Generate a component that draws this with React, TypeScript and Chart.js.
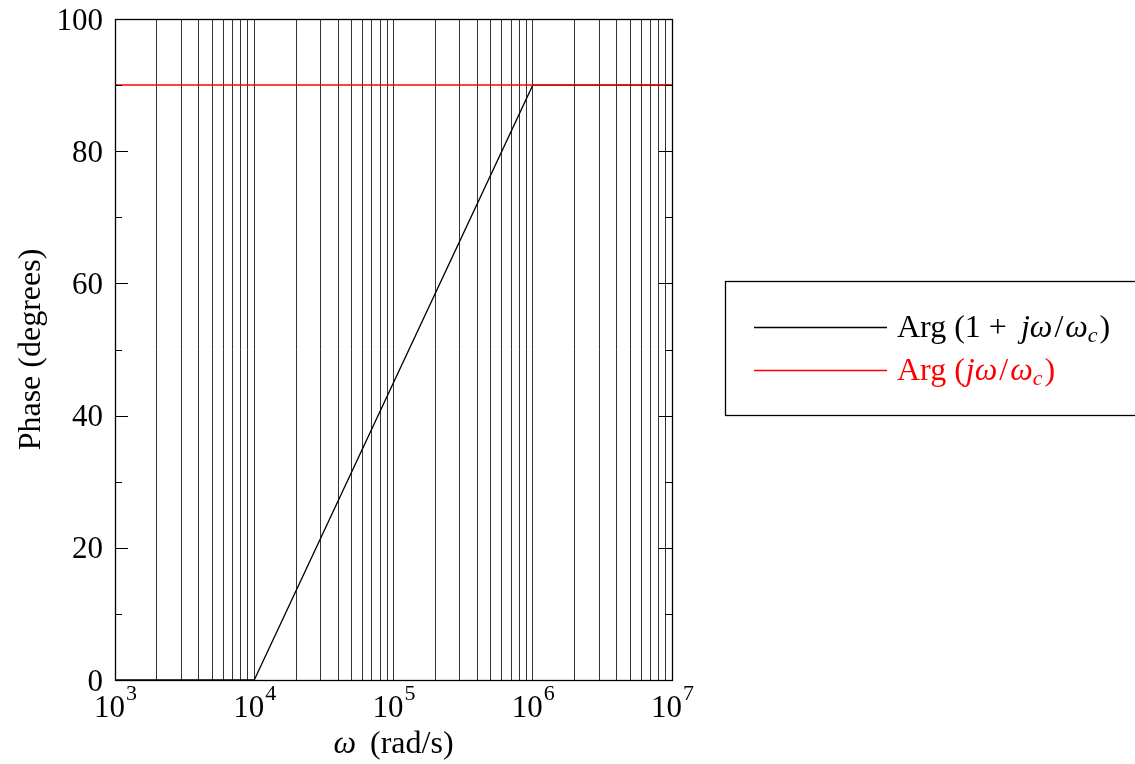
import { useEffect, useRef } from 'react';
import { Chart, registerables } from 'chart.js';

Chart.register(...registerables);

// ---- data ----
const omegaMin = 1e3;
const omegaMax = 1e7;
const breakFreqs = [1e3, 1e4, 1e6, 1e7];
const phaseOnePlus = [0, 0, 90, 90];
const zeroFreqs = [1e3, 1e7];
const phaseZero = [90, 90];
const decadeExponents = [3, 4, 5, 6, 7];
const mantissas = [1, 2, 3, 4, 5, 6, 7, 8, 9];
const yTicks = [0, 10, 20, 30, 40, 50, 60, 70, 80, 90, 100];
const yLabels = ['0', '20', '40', '60', '80', '100'];
const yTitle = 'Phase (degrees)';

const FONT = "'Liberation Serif', 'DejaVu Serif', serif";
const FS = 31;
const TS = 32;

type Seg = { t: string; it?: boolean; sub?: boolean; gap?: number };
const legendItems: { color: string; segs: Seg[] }[] = [
  {
    color: '#000000',
    segs: [
      { t: 'Arg', gap: 8 },
      { t: '(1', gap: 8 },
      { t: '+', gap: 14 },
      { t: 'jω', it: true, gap: 2 },
      { t: '/', gap: 2 },
      { t: 'ω', it: true },
      { t: 'c', it: true, sub: true, gap: 2 },
      { t: ')' },
    ],
  },
  {
    color: '#ff0000',
    segs: [
      { t: 'Arg', gap: 8 },
      { t: '(', gap: 1 },
      { t: 'jω', it: true, gap: 2 },
      { t: '/', gap: 2 },
      { t: 'ω', it: true },
      { t: 'c', it: true, sub: true, gap: 2 },
      { t: ')' },
    ],
  },
];

const gridValues: number[] = [];
decadeExponents.forEach((e, i) => {
  mantissas.forEach((m) => {
    const v = m * Math.pow(10, e);
    if (i < decadeExponents.length - 1 || m === 1) gridValues.push(v);
  });
});

const decorPlugin = {
  id: 'decor',
  afterDraw(chart: any) {
    const ctx: CanvasRenderingContext2D = chart.ctx;
    const { left, right, top, bottom } = chart.chartArea;
    const xs = chart.scales.x;
    const ys = chart.scales.y;
    ctx.save();
    // frame
    ctx.strokeStyle = '#000';
    ctx.lineWidth = 1.3;
    ctx.strokeRect(Math.round(left) + 0.5, Math.round(top) + 0.5, Math.round(right - left), Math.round(bottom - top));
    // y ticks inward, both sides
    ctx.lineWidth = 1;
    yTicks.forEach((v) => {
      const y = Math.round(ys.getPixelForValue(v)) + 0.5;
      const len = v % 20 === 0 ? 13 : 7;
      ctx.beginPath();
      ctx.moveTo(left, y);
      ctx.lineTo(left + len, y);
      ctx.moveTo(right, y);
      ctx.lineTo(right - len, y);
      ctx.stroke();
    });
    ctx.fillStyle = '#000';
    ctx.font = `${FS}px ${FONT}`;
    ctx.textAlign = 'right';
    ctx.textBaseline = 'alphabetic';
    yLabels.forEach((l) => {
      const y = ys.getPixelForValue(Number(l));
      ctx.fillText(l, left - 12, y + 10.5);
    });
    // x labels 10^e
    ctx.textAlign = 'left';
    decadeExponents.forEach((e) => {
      const x = xs.getPixelForValue(Math.pow(10, e));
      ctx.font = `${FS}px ${FONT}`;
      const w1 = ctx.measureText('10').width;
      ctx.font = `${Math.round(FS * 0.7)}px ${FONT}`;
      const w2 = ctx.measureText(String(e)).width;
      const sx = x - (w1 + w2) / 2;
      ctx.font = `${FS}px ${FONT}`;
      ctx.fillText('10', sx, bottom + 37);
      ctx.font = `${Math.round(FS * 0.7)}px ${FONT}`;
      ctx.fillText(String(e), sx + w1 + 1, bottom + 20);
    });
    // x title: italic omega + (rad/s)
    ctx.font = `italic ${TS}px ${FONT}`;
    const wOm = ctx.measureText('ω').width;
    ctx.font = `${TS}px ${FONT}`;
    const wRest = ctx.measureText('(rad/s)').width;
    const gap = 14;
    const total = wOm + gap + wRest;
    const cx = (left + right) / 2 - total / 2;
    ctx.textAlign = 'left';
    ctx.font = `italic ${TS}px ${FONT}`;
    ctx.fillText('ω', cx, bottom + 73);
    ctx.font = `${TS}px ${FONT}`;
    ctx.fillText('(rad/s)', cx + wOm + gap, bottom + 73);
    // y title
    ctx.textAlign = 'center';
    ctx.save();
    ctx.translate(40, (top + bottom) / 2);
    ctx.rotate(-Math.PI / 2);
    ctx.font = `${TS}px ${FONT}`;
    ctx.fillText(yTitle, 0, 0);
    ctx.restore();
    // legend
    ctx.lineWidth = 1.3;
    ctx.strokeStyle = '#000';
    ctx.strokeRect(725.5, 281.5, 430, 134);
    legendItems.forEach((item, i) => {
      const ly = 327 + i * 43;
      ctx.strokeStyle = item.color;
      ctx.lineWidth = 1.3;
      ctx.beginPath();
      ctx.moveTo(754, ly + 0.5);
      ctx.lineTo(887, ly + 0.5);
      ctx.stroke();
      let tx = 897;
      const base = ly + 10;
      ctx.fillStyle = item.color;
      ctx.textAlign = 'left';
      item.segs.forEach((s) => {
        const size = s.sub ? Math.round(TS * 0.7) : TS;
        ctx.font = `${s.it ? 'italic ' : ''}${size}px ${FONT}`;
        ctx.fillText(s.t, tx, s.sub ? base + 5 : base);
        tx += ctx.measureText(s.t).width + (s.gap || 0);
      });
    });
    ctx.restore();
  },
};

export default function App() {
  const ref = useRef<HTMLCanvasElement | null>(null);
  useEffect(() => {
    document.body.style.margin = '0';
    if (!ref.current) return;
    const chart = new Chart(ref.current, {
      type: 'line',
      data: {
        datasets: [
          {
            label: 'Arg (1 + jω/ωc)',
            data: breakFreqs.map((x, i) => ({ x, y: phaseOnePlus[i] })),
            borderColor: '#000000',
            borderWidth: 1.3,
            pointRadius: 0,
            tension: 0,
            order: 2,
          },
          {
            label: 'Arg (jω/ωc)',
            data: zeroFreqs.map((x, i) => ({ x, y: phaseZero[i] })),
            borderColor: '#ff0000',
            borderWidth: 1.5,
            pointRadius: 0,
            tension: 0,
            order: 1,
          },
        ],
      },
      options: {
        animation: false,
        responsive: true,
        maintainAspectRatio: false,
        layout: { padding: { left: 115, top: 19, right: 463, bottom: 84 } },
        plugins: { legend: { display: false }, tooltip: { enabled: false } },
        scales: {
          x: {
            type: 'logarithmic',
            min: omegaMin,
            max: omegaMax,
            afterBuildTicks: (scale: any) => {
              scale.ticks = gridValues.map((v) => ({ value: v }));
            },
            ticks: { display: false },
            grid: { display: true, drawTicks: false, color: 'rgba(0,0,0,0.8)', lineWidth: 1 },
            border: { display: false },
          },
          y: {
            type: 'linear',
            min: 0,
            max: 100,
            ticks: { display: false },
            grid: { display: false, drawTicks: false },
            border: { display: false },
          },
        },
      },
      plugins: [decorPlugin],
    });
    return () => chart.destroy();
  }, []);
  return (
    <div style={{ position: 'relative', width: 1135, height: 764 }}>
      <canvas ref={ref} />
    </div>
  );
}
